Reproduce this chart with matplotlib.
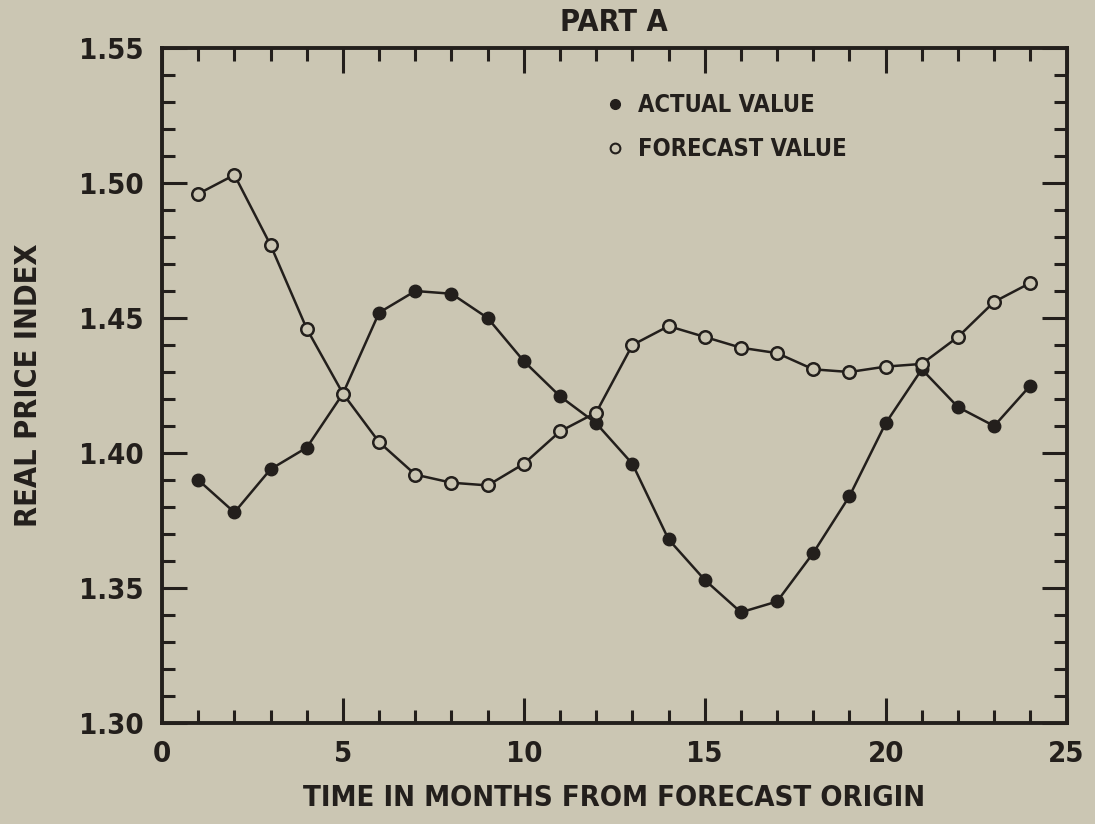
import os
import matplotlib
matplotlib.use("Agg")
import matplotlib.pyplot as plt
from matplotlib.lines import Line2D
from matplotlib.ticker import MultipleLocator
from matplotlib import font_manager

months = list(range(1, 25))
actual = [1.390, 1.378, 1.394, 1.402, 1.422, 1.452, 1.460, 1.459, 1.450, 1.434,
          1.421, 1.411, 1.396, 1.368, 1.353, 1.341, 1.345, 1.363, 1.384, 1.411,
          1.431, 1.417, 1.410, 1.425]
forecast = [1.496, 1.503, 1.477, 1.446, 1.422, 1.404, 1.392, 1.389, 1.388, 1.396,
            1.408, 1.415, 1.440, 1.447, 1.443, 1.439, 1.437, 1.431, 1.430, 1.432,
            1.433, 1.443, 1.456, 1.463]

ink = "#231f1c"
paper = "#cbc6b3"

# look for a narrow bold face; fall back to DejaVu Sans
files = sorted(f.fname for f in font_manager.fontManager.ttflist)
narrow = [f for f in files
          if ("narrow" in os.path.basename(f).lower() or "condensed" in os.path.basename(f).lower())
          and "bold" in os.path.basename(f).lower() and "italic" not in os.path.basename(f).lower()
          and "oblique" not in os.path.basename(f).lower()]
if narrow:
    fp = font_manager.FontProperties(fname=narrow[0])
else:
    fp = font_manager.FontProperties(family="DejaVu Sans", weight="bold")

def font(size):
    p = fp.copy()
    p.set_size(size)
    return p

fig = plt.figure(figsize=(10.95, 8.24), dpi=100, facecolor=paper)
ax = fig.add_axes([0.148, 0.1226, 0.826, 0.8191], facecolor=paper)

ax.plot(months, actual, "-o", color=ink, lw=1.8, ms=9, mfc=ink, mec=ink, zorder=3)
ax.plot(months, forecast, "-o", color=ink, lw=1.8, ms=9, mfc=paper, mec=ink, mew=1.8, zorder=3)

ax.set_xlim(0, 25)
ax.set_ylim(1.30, 1.55)
ax.xaxis.set_major_locator(MultipleLocator(5))
ax.xaxis.set_minor_locator(MultipleLocator(1))
ax.yaxis.set_major_locator(MultipleLocator(0.05))
ax.yaxis.set_minor_locator(MultipleLocator(0.01))
ax.yaxis.set_major_formatter(lambda v, p: f"{v:.2f}")

for s in ax.spines.values():
    s.set_linewidth(2.8)
    s.set_color(ink)
ax.tick_params(which="both", direction="in", top=True, right=True, color=ink, width=2.2)
ax.tick_params(which="major", length=18)
ax.tick_params(which="minor", length=9.5)
ax.tick_params(axis="x", which="major", pad=12, labelcolor=ink)
ax.tick_params(axis="y", which="major", pad=13, labelcolor=ink)
for lbl in ax.get_xticklabels() + ax.get_yticklabels():
    lbl.set_fontproperties(font(21))

ax.set_title("PART A", fontproperties=font(22), color=ink, pad=12)
ax.set_xlabel("TIME IN MONTHS FROM FORECAST ORIGIN", fontproperties=font(21), color=ink, labelpad=12)
ax.set_ylabel("REAL PRICE INDEX", fontproperties=font(22), color=ink, labelpad=26)

handles = [
    Line2D([], [], ls="none", marker="o", ms=7, mfc=ink, mec=ink),
    Line2D([], [], ls="none", marker="o", ms=7, mfc=paper, mec=ink, mew=1.5),
]
leg = ax.legend(handles, ["ACTUAL VALUE", "FORECAST VALUE"], loc="upper left",
                bbox_to_anchor=(0.475, 0.951), frameon=False, borderpad=0,
                handlelength=1.0, handletextpad=0.45, labelspacing=0.85,
                prop=font(17))
for t in leg.get_texts():
    t.set_color(ink)

fig.savefig("out.png", dpi=100, facecolor=paper)
